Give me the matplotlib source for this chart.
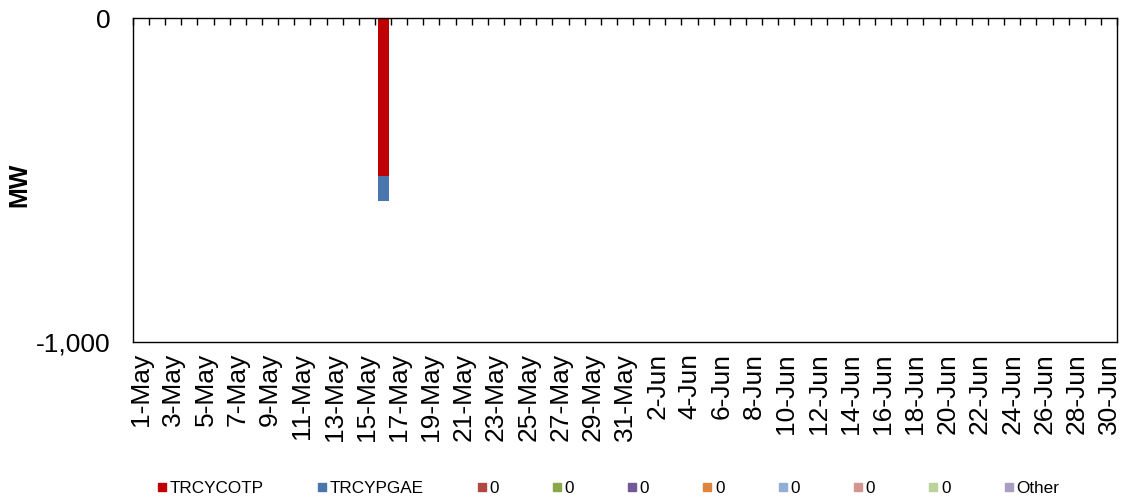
import numpy as np
import pandas as pd
import matplotlib
matplotlib.use("Agg")
import matplotlib.pyplot as plt
from matplotlib.lines import Line2D
from matplotlib.ticker import FuncFormatter

plt.rcParams['font.family'] = ['Liberation Sans', 'DejaVu Sans']

# Days on the category axis
days = pd.date_range("2024-05-01", "2024-06-30", freq="D")
day_labels = [f"{d.day}-{d.strftime('%b')}" for d in days]

# Series (MW, negative values)
series_names = ["TRCYCOTP", "TRCYPGAE", "0", "0", "0", "0", "0", "0", "0", "Other"]
series_colors = ["#C00000", "#4A76AE", "#B04845", "#8AA74A", "#72599A", "#DF843C",
                 "#93AED6", "#D49492", "#B9D39A", "#A99DC2"]
trcycotp = np.zeros(len(days))
trcypgae = np.zeros(len(days))
trcycotp[15] = -487   # 16-May
trcypgae[15] = -79
series_values = [trcycotp, trcypgae] + [np.zeros(len(days)) for _ in range(8)]

y_min, y_max = -1000, 0

fig = plt.figure(figsize=(11.24, 5.01), dpi=100)
ax = fig.add_axes([0.1183, 0.3174, 0.8755, 0.6466])

x = np.arange(len(days))
bottom = np.zeros(len(days))
for vals, col in zip(series_values, series_colors):
    ax.bar(x, vals, bottom=bottom, width=0.68, color=col, linewidth=0)
    bottom = bottom + vals

ax.set_xlim(-0.5, len(days) - 0.5)
ax.set_ylim(y_min, y_max)

# x labels every other day, tick marks at category boundaries on the zero line (top)
ax.set_xticks(x[::2])
ax.set_xticklabels(day_labels[::2], rotation=90, fontsize=19)
ax.tick_params(axis='x', which='major', length=0, pad=8)
ax.set_xticks(np.arange(len(days) + 1) - 0.5, minor=True)
ax.tick_params(axis='x', which='minor', top=True, bottom=False, direction='in', length=5, width=1)

ax.set_yticks([y_min, y_max])
ax.yaxis.set_major_formatter(FuncFormatter(lambda v, p: f"{int(v):,}"))
ax.tick_params(axis='y', length=0, pad=16, labelsize=19)
fig.text(19 / 1124, 1 - 185 / 501, "MW", rotation=90, ha='center', va='center',
         fontsize=18, fontweight='bold')

for s in ax.spines.values():
    s.set_linewidth(1.0)
    s.set_color('black')

handles = [Line2D([0], [0], marker='s', linestyle='', markersize=5.5,
                  markerfacecolor=c, markeredgecolor=c) for c in series_colors]
fig.legend(handles, series_names, loc='center', bbox_to_anchor=(0.541, 0.024), ncol=10,
           frameon=False, fontsize=12.3, handlelength=0.6, handletextpad=0.15,
           columnspacing=3.1, borderaxespad=0)

fig.savefig("out.png", dpi=100)
